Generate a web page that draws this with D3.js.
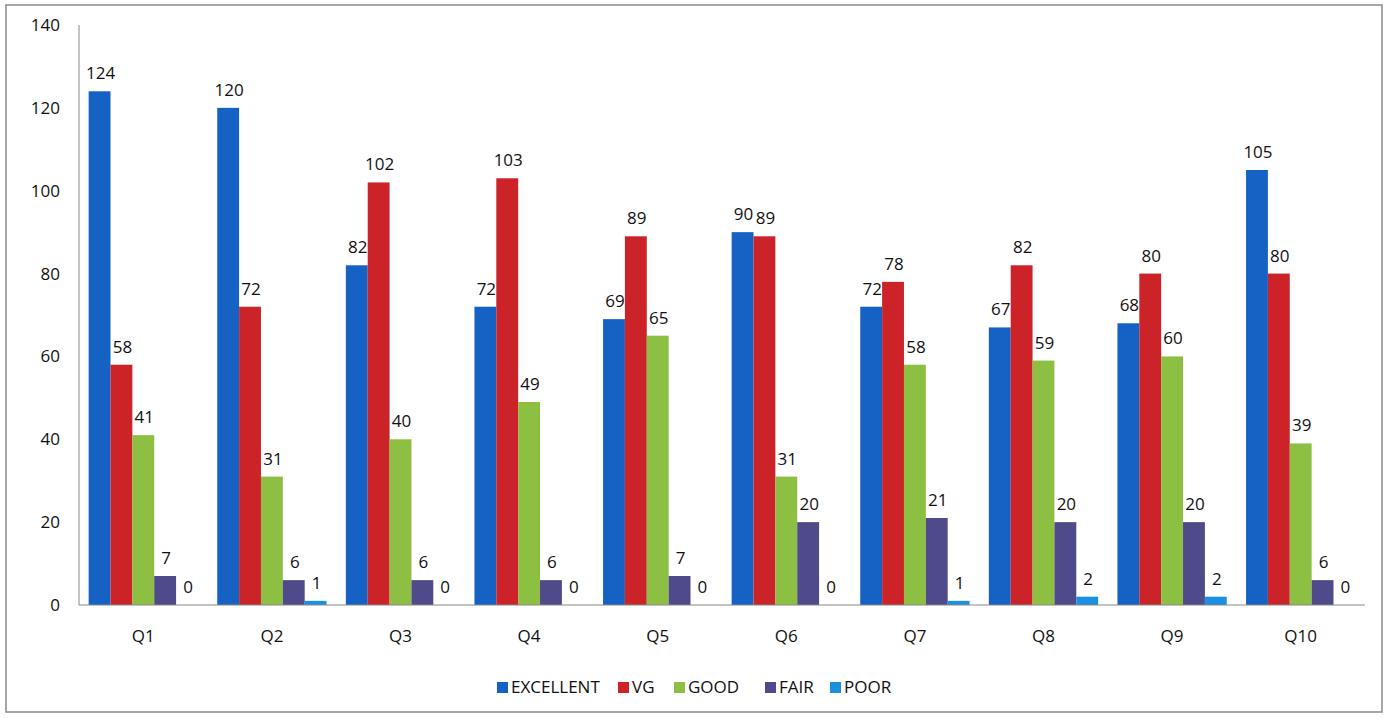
<!DOCTYPE html>
<html>
<head>
<meta charset="utf-8">
<script src="https://cdn.jsdelivr.net/npm/d3@7"></script>
<style>
  body { margin: 0; background: #fff; }
  text { font-family: "Open Sans", Lato, sans-serif; fill: #111; }
</style>
</head>
<body>
<script>
// Data
let questions = ["Q1", "Q2", "Q3", "Q4", "Q5", "Q6", "Q7", "Q8", "Q9", "Q10"];
let seriesNames = ["EXCELLENT", "VG", "GOOD", "FAIR", "POOR"];
let excellent = [124, 120, 82, 72, 69, 90, 72, 67, 68, 105];
let vg = [58, 72, 102, 103, 89, 89, 78, 82, 80, 80];
let good = [41, 31, 40, 49, 65, 31, 58, 59, 60, 39];
let fair = [7, 6, 6, 6, 7, 20, 21, 20, 20, 6];
let poor = [0, 1, 0, 0, 0, 0, 1, 2, 2, 0];
let yTicks = [0, 20, 40, 60, 80, 100, 120, 140];

let seriesValues = [excellent, vg, good, fair, poor];
let colors = ["#1662c4", "#cc2329", "#8dbf42", "#4f4a8a", "#1b90e2"];

let width = 1390, height = 719;
let margin = {top: 25, right: 25, bottom: 114, left: 79};

let svg = d3.select("body").append("svg")
    .attr("width", width)
    .attr("height", height);

// outer frame
svg.append("rect")
    .attr("x", 6).attr("y", 5)
    .attr("width", 1376).attr("height", 707)
    .attr("fill", "none")
    .attr("stroke", "#8a8a8a")
    .attr("stroke-width", 1.5);

// scales
let x0 = d3.scaleBand()
    .domain(questions)
    .range([margin.left, width - margin.right])
    .paddingInner(0.15)
    .paddingOuter(0.075);

let x1 = d3.scaleBand()
    .domain(seriesNames)
    .range([0, x0.bandwidth()]);

let y = d3.scaleLinear()
    .domain([0, 140])
    .range([height - margin.bottom, margin.top]);

// y axis line
svg.append("line")
    .attr("x1", margin.left).attr("x2", margin.left)
    .attr("y1", y(140)).attr("y2", y(0))
    .attr("stroke", "#888");

// y tick labels
svg.selectAll(".ytick")
    .data(yTicks)
    .enter().append("text")
    .attr("class", "ytick")
    .attr("x", 60)
    .attr("y", d => y(d))
    .attr("dy", "0.35em")
    .style("text-anchor", "end")
    .style("font-size", "17px")
    .text(d => d);

// bars, one group per question
let groups = svg.selectAll(".grp")
    .data(questions)
    .enter().append("g")
    .attr("class", "grp")
    .attr("transform", d => "translate(" + x0(d) + ",0)");

let cells = groups.selectAll(".cell")
    .data((q, i) => seriesNames.map((s, j) => ({s: s, v: seriesValues[j][i], c: colors[j]})))
    .enter();

cells.append("rect")
    .attr("x", d => x1(d.s))
    .attr("y", d => y(d.v))
    .attr("width", x1.bandwidth())
    .attr("height", d => y(0) - y(d.v))
    .attr("fill", d => d.c);

cells.append("text")
    .attr("x", d => x1(d.s) + x1.bandwidth() / 2 + 1)
    .attr("y", d => y(d.v) - 12)
    .style("text-anchor", "middle")
    .style("font-size", "17px")
    .text(d => d.v);

// baseline
svg.append("line")
    .attr("x1", margin.left).attr("x2", width - margin.right)
    .attr("y1", y(0)).attr("y2", y(0))
    .attr("stroke", "#888");

// category labels
svg.selectAll(".xlab")
    .data(questions)
    .enter().append("text")
    .attr("class", "xlab")
    .attr("x", d => x0(d) + x0.bandwidth() / 2)
    .attr("y", y(0) + 31)
    .attr("dy", "0.35em")
    .style("text-anchor", "middle")
    .style("font-size", "17px")
    .text(d => d);

// legend
let legendX = [497, 618, 674, 765, 830];
let legend = svg.selectAll(".leg")
    .data(seriesNames)
    .enter().append("g")
    .attr("class", "leg")
    .attr("transform", (d, i) => "translate(" + legendX[i] + ",687)");

legend.append("rect")
    .attr("x", 0).attr("y", -5)
    .attr("width", 11).attr("height", 11)
    .attr("fill", (d, i) => colors[i]);

legend.append("text")
    .attr("x", 14)
    .attr("dy", "0.35em")
    .style("font-size", "17px")
    .text(d => d);
</script>
</body>
</html>
